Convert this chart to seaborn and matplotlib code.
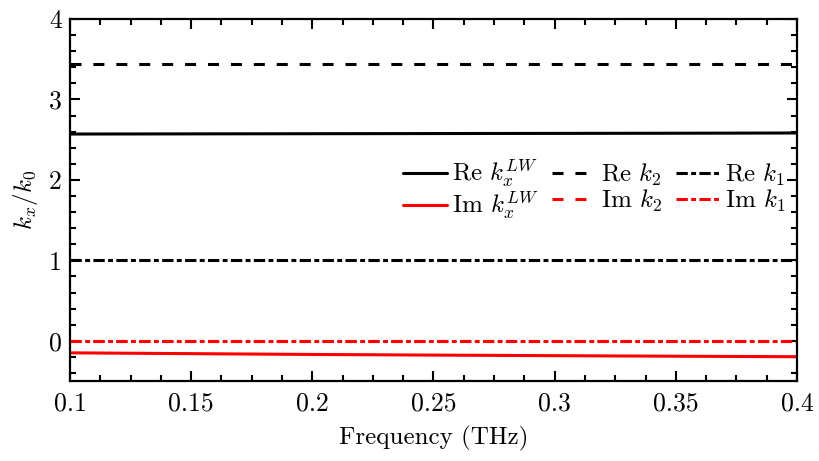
import numpy as np
import pandas as pd
import matplotlib
matplotlib.use("Agg")
import matplotlib.pyplot as plt
import seaborn as sns
from matplotlib.ticker import MultipleLocator, AutoMinorLocator, FuncFormatter

# Frequency samples (THz)
freq = [0.10, 0.15, 0.20, 0.25, 0.30, 0.35, 0.40]
# Normalised wavenumbers k/k0
re_klw = [2.570, 2.572, 2.574, 2.576, 2.578, 2.580, 2.583]
im_klw = [-0.150, -0.160, -0.170, -0.178, -0.185, -0.192, -0.198]
re_k2 = [3.44, 3.44, 3.44, 3.44, 3.44, 3.44, 3.44]
im_k2 = [0.0, 0.0, 0.0, 0.0, 0.0, 0.0, 0.0]
re_k1 = [1.0, 1.0, 1.0, 1.0, 1.0, 1.0, 1.0]
im_k1 = [0.0, 0.0, 0.0, 0.0, 0.0, 0.0, 0.0]

sns.set_style("ticks", rc={"axes.edgecolor": "black", "xtick.color": "black",
                           "ytick.color": "black", "text.color": "black",
                           "axes.labelcolor": "black"})
plt.rcParams.update({
    "font.family": "serif",
    "font.serif": ["cmr10", "DejaVu Serif"],
    "mathtext.fontset": "cm",
    "axes.formatter.use_mathtext": True,
    "axes.unicode_minus": False,
    "axes.linewidth": 1.6,
})

fig = plt.figure(figsize=(8.19, 4.61), dpi=100)
ax = fig.add_axes([70 / 819, 1 - 381 / 461, (797 - 70) / 819, (381 - 19) / 461])

dashed = (0, (3.6, 3.9))
dashdot = (0, (3.7, 1.1, 1.6, 1.1))
series = [
    (r"Re $k_x^{LW}$", re_klw, "black", "-"),
    (r"Im $k_x^{LW}$", im_klw, "red", "-"),
    (r"Re $k_2$", re_k2, "black", dashed),
    (r"Im $k_2$", im_k2, "red", dashed),
    (r"Re $k_1$", re_k1, "black", dashdot),
    (r"Im $k_1$", im_k1, "red", dashdot),
]

for label, vals, color, ls in series:
    df = pd.DataFrame({"f": freq, "k": vals})
    sns.lineplot(data=df, x="f", y="k", ax=ax, color=color, linestyle=ls,
                 linewidth=2.2, label=label)

ax.set_xlim(0.1, 0.4)
ax.set_ylim(-0.5, 4)
ax.xaxis.set_major_locator(MultipleLocator(0.05))
ax.xaxis.set_minor_locator(AutoMinorLocator(4))
ax.yaxis.set_major_locator(MultipleLocator(1))
ax.yaxis.set_minor_locator(AutoMinorLocator(5))
ax.xaxis.set_major_formatter(FuncFormatter(lambda v, p: f"{v:g}"))
ax.yaxis.set_major_formatter(FuncFormatter(lambda v, p: f"{v:g}"))
ax.tick_params(which="both", direction="in", top=True, right=True,
               labelsize=18.5, width=1.5)
ax.tick_params(axis="x", pad=8)
ax.tick_params(axis="y", pad=6)
ax.tick_params(which="major", length=7)
ax.tick_params(which="minor", length=4)

ax.set_xlabel("Frequency (THz)", fontsize=18, labelpad=7)
ax.set_ylabel(r"$k_x/k_0$", fontsize=18, labelpad=6)

ax.legend(ncol=3, frameon=False, fontsize=18, loc="center right",
          bbox_to_anchor=(0.9835, 0.528), handlelength=1.75, handletextpad=0.2,
          columnspacing=0.55, labelspacing=0.0, borderaxespad=0, borderpad=0)

fig.savefig("out.png", dpi=100)
